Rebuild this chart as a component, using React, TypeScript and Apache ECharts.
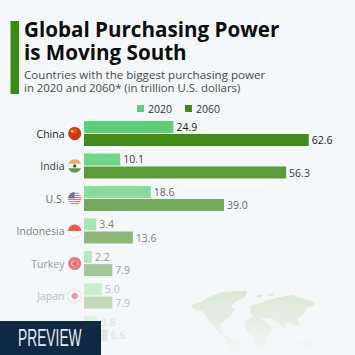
import React, { useEffect, useRef } from "react";
import * as echarts from "echarts";

const countries = ["China", "India", "U.S.", "Indonesia", "Turkey", "Japan", ""];
const values2020 = [24.9, 10.1, 18.6, 3.4, 2.2, 5.0, 3.8];
const values2060 = [62.6, 56.3, 39.0, 13.6, 7.9, 7.9, 6.6];
const colors2020 = ["#5dd077", "#6dd586", "#8bdc99", "#a6e5b0", "#b4e9bd", "#c8efcf", "#dff3e3"];
const colors2060 = ["#3f8d17", "#5c9b3a", "#74aa5d", "#8bb87a", "#a5c898", "#c3d9bc", "#e0eadf"];
const labelColors = ["#222222", "#3a3a3a", "#666666", "#808080", "#9a9a9a", "#bcbcbc", "#dddddd"];
const flagOpacity = [1, 0.95, 0.65, 0.85, 0.6, 0.45, 0.1];

const BG = "#f5f8fb";
const R = 6.5;

echarts.graphic.registerShape(
  "capTop",
  echarts.graphic.extendPath("M-6.13,-2.17 A6.5,6.5 0 0 1 6.13,-2.17 Z", {})
);
echarts.graphic.registerShape(
  "capBottom",
  echarts.graphic.extendPath("M-6.13,2.17 A6.5,6.5 0 0 0 6.13,2.17 Z", {})
);
echarts.graphic.registerShape(
  "halfTop",
  echarts.graphic.extendPath("M-6.5,0 A6.5,6.5 0 0 1 6.5,0 Z", {})
);
echarts.graphic.registerShape(
  "canton",
  echarts.graphic.extendPath("M-6.5,0 A6.5,6.5 0 0 1 0,-6.5 L0,0 Z", {})
);
echarts.graphic.registerShape(
  "worldMap",
  echarts.graphic.extendPath(
    "M22,58 L50,52 L72,36 L110,22 L150,18 L188,18 L178,38 L150,52 L138,62 L150,75 L135,95 L118,105 L105,120 L115,150 L130,155 L160,165 L175,180 L160,210 L140,210 L125,175 L120,160 L95,135 L70,105 L55,80 L35,75 L22,70 Z " +
      "M200,60 L225,55 L250,45 L290,35 L320,30 L350,40 L385,48 L390,60 L365,70 L355,90 L340,100 L345,125 L325,120 L310,110 L295,130 L280,110 L255,100 L225,98 L250,115 L265,130 L250,150 L245,175 L225,200 L210,195 L205,160 L190,145 L178,125 L185,105 L205,95 L195,80 Z " +
      "M205,32 L235,28 L225,40 Z M245,28 L270,25 L262,34 Z M340,170 L375,165 L385,190 L350,195 Z",
    {}
  )
);

function flagChildren(i: number) {
  const o = flagOpacity[i];
  const circle = (fill: string, r = R, extra: any = {}) => ({
    type: "circle",
    shape: { cx: extra.cx ?? 0, cy: extra.cy ?? 0, r },
    style: { fill, opacity: extra.o ?? o, stroke: extra.stroke, lineWidth: extra.stroke ? 0.8 : 0 },
  });
  if (i === 0) {
    return [
      circle("#d4341c"),
      circle("#f2c230", 1.6, { cx: -2.4, cy: -2.2 }),
      circle("#f2c230", 0.6, { cx: 0.6, cy: -3.6 }),
      circle("#f2c230", 0.6, { cx: 1.4, cy: -1.4 }),
    ];
  }
  if (i === 1) {
    return [
      circle("#ffffff", R, { stroke: "#e0d8c8" }),
      { type: "capTop", style: { fill: "#f0a850", opacity: o } },
      { type: "capBottom", style: { fill: "#4c9a3a", opacity: o } },
      circle("#24307a", 1.6),
    ];
  }
  if (i === 2) {
    const stripes = [-5, -3, -1, 1, 3, 5].map((y) => {
      const half = Math.sqrt(R * R - y * y);
      return {
        type: "line",
        shape: { x1: -half, y1: y, x2: half, y2: y },
        style: { stroke: "#c8333f", lineWidth: 1, opacity: o },
      };
    });
    return [
      circle("#ffffff", R, { stroke: "#d8d8e4" }),
      ...stripes,
      { type: "canton", style: { fill: "#3c4a8a", opacity: o } },
    ];
  }
  if (i === 3) {
    return [
      circle("#ffffff", R, { stroke: "#f2c8c8" }),
      { type: "halfTop", style: { fill: "#ef3b3b", opacity: o } },
    ];
  }
  if (i === 4) {
    return [
      circle("#df2a2a"),
      circle("#ffffff", 3, { cx: -0.8 }),
      circle("#df2a2a", 2.4, { cx: 0 }),
      circle("#ffffff", 0.9, { cx: 3 }),
    ];
  }
  return [circle("#ffffff", R, { stroke: "#f0d8e0", o: 1 }), circle("#c02050", 3.3)];
}

const valueLabel = (i: number) => ({
  show: true,
  position: "right" as const,
  distance: 3,
  formatter: (p: any) => Number(p.value).toFixed(1),
  color: labelColors[i],
  fontFamily: "Open Sans",
  fontSize: 10.5,
});

export default function App() {
  const ref = useRef<HTMLDivElement>(null);
  useEffect(() => {
    const chart = echarts.init(ref.current!, null, { renderer: "svg" });
    chart.setOption({
      animation: false,
      backgroundColor: BG,
      legend: {
        data: ["2020", "2060"],
        left: 137,
        top: 103,
        padding: 0,
        icon: "rect",
        itemWidth: 7,
        itemHeight: 7,
        itemGap: 13,
        textStyle: { fontFamily: "Open Sans", fontSize: 10.5, color: "#333333", padding: [0, 0, 0, -1] },
      },
      grid: { left: 84, top: 117.25, width: 251.3, height: 227.5 },
      xAxis: { type: "value", min: 0, max: 70, show: false },
      yAxis: {
        type: "category",
        inverse: true,
        data: countries,
        axisLine: { show: false },
        axisTick: { show: false },
        axisLabel: {
          margin: 19.5,
          interval: 0,
          fontFamily: "Open Sans",
          fontSize: 10.5,
          color: (_: any, i: number) => labelColors[i],
        },
      },
      series: [
        {
          name: "2020",
          type: "bar",
          barWidth: 12,
          barGap: "10%",
          itemStyle: { color: colors2020[0] },
          data: values2020.map((value, i) => ({
            value,
            itemStyle: { color: colors2020[i] },
            label: valueLabel(i),
          })),
        },
        {
          name: "2060",
          type: "bar",
          barWidth: 12,
          barGap: "10%",
          itemStyle: { color: colors2060[0] },
          data: values2060.map((value, i) => ({
            value,
            itemStyle: { color: colors2060[i] },
            label: valueLabel(i),
          })),
        },
        {
          name: "flags",
          type: "custom",
          clip: false,
          silent: true,
          data: countries.map((_, i) => [0, i]),
          encode: { x: 0, y: 1 },
          renderItem: (params: any, api: any) => {
            const p = api.coord([0, params.dataIndex]);
            return {
              type: "group",
              x: p[0] - 9.3,
              y: p[1],
              children: flagChildren(params.dataIndex),
            };
          },
        },
      ],
      graphic: [
        { type: "rect", shape: { x: 10.5, y: 21, width: 8.5, height: 73 }, style: { fill: "#3a8a10" } },
        {
          type: "text",
          x: 24,
          y: 17.5,
          style: {
            text: "Global Purchasing Power\nis Moving South",
            font: "700 20.6px 'Open Sans'",
            lineHeight: 23,
            fill: "#0d0d0d",
          },
        },
        {
          type: "text",
          x: 24,
          y: 68,
          style: { text: "Countries with the biggest purchasing power", font: "400 11.6px 'Open Sans'", fill: "#4a4a4a" },
        },
        {
          type: "text",
          x: 24,
          y: 82,
          style: { text: "in 2020 and 2060* (in trillion U.S. dollars)", font: "400 11.4px 'Open Sans'", fill: "#4a4a4a" },
        },
        {
          type: "worldMap",
          x: 185,
          y: 285,
          scaleX: 1 / 3,
          scaleY: 1 / 3,
          z: 0,
          style: {
            fill: new echarts.graphic.LinearGradient(0, 0, 0, 1, [
              { offset: 0, color: "#dbe9d6" },
              { offset: 0.45, color: "#e6eee3" },
              { offset: 1, color: BG },
            ]),
          },
        },
        { type: "rect", z: 100, shape: { x: 0, y: 321, width: 101, height: 34 }, style: { fill: "#0f2843" } },
        {
          type: "text",
          z: 101,
          x: 18,
          y: 327,
          scaleX: 0.6,
          style: { text: "PREVIEW", font: "400 23px 'Liberation Sans'", fill: "#e4edf5" },
        },
      ],
    });
    return () => chart.dispose();
  }, []);
  return <div ref={ref} style={{ position: "fixed", left: 0, top: 0, width: 355, height: 355 }} />;
}
